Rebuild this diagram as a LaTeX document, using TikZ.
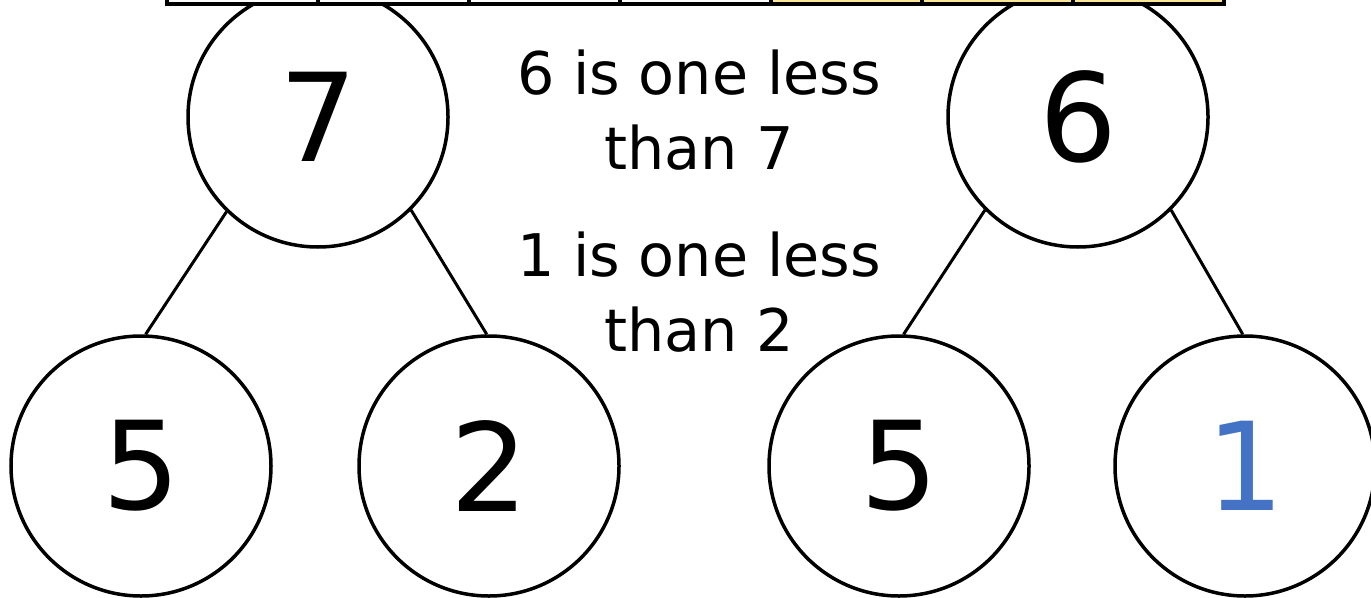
\documentclass[tikz,border=0pt]{standalone}
\usepackage{fontspec}
\setmainfont{DejaVu Sans}
\definecolor{cellyellow}{HTML}{FFE699}
\definecolor{numblue}{HTML}{4472C4}
\begin{document}
\begin{tikzpicture}[x=1bp,y=-1bp,
  bubble/.style={circle,draw,line width=3.5bp,minimum size=260bp,inner sep=0pt,font=\fontsize{123}{123}\selectfont},
  cell/.style={draw,fill=white,line width=4.5bp,minimum width=151bp,minimum height=30bp,inner sep=0pt},
  link/.style={line width=3bp},
  note/.style={align=center,font=\fontsize{59}{75}\selectfont}]
\useasboundingbox (0,0) rectangle (1371,598);
\clip (0,0) rectangle (1371,598);
% left tree
\node[bubble] (t1) at (318,117) {7};
\node[bubble] (a1) at (141,466) {5};
\node[bubble] (a2) at (489,466) {2};
% right tree
\node[bubble] (t2) at (1078,117) {6};
\node[bubble] (b1) at (899,466) {5};
\node[bubble,text=numblue] (b2) at (1245,466) {1};
% links
\draw[link] (t1.226) -- (a1.88);
\draw[link] (t1.315) -- (a2.91);
\draw[link] (t2.225) -- (b1.88);
\draw[link] (t2.315) -- (b2.91);
% notes
\node[note] (n1) at (699,110) {6 is one less\\than 7};
\node[note] (n2) at (699,292) {1 is one less\\than 2};
% top bar (drawn over the circles)
\node[cell] (c1) at (242.5,-11) {};
\node[cell] (c2) at (393.5,-11) {};
\node[cell] (c3) at (544.5,-11) {};
\node[cell] (c4) at (695.5,-11) {};
\node[cell,fill=cellyellow] (c5) at (846.5,-11) {};
\node[cell,fill=cellyellow] (c6) at (997.5,-11) {};
\node[cell,fill=cellyellow] (c7) at (1148.5,-11) {};
\end{tikzpicture}
\end{document}
